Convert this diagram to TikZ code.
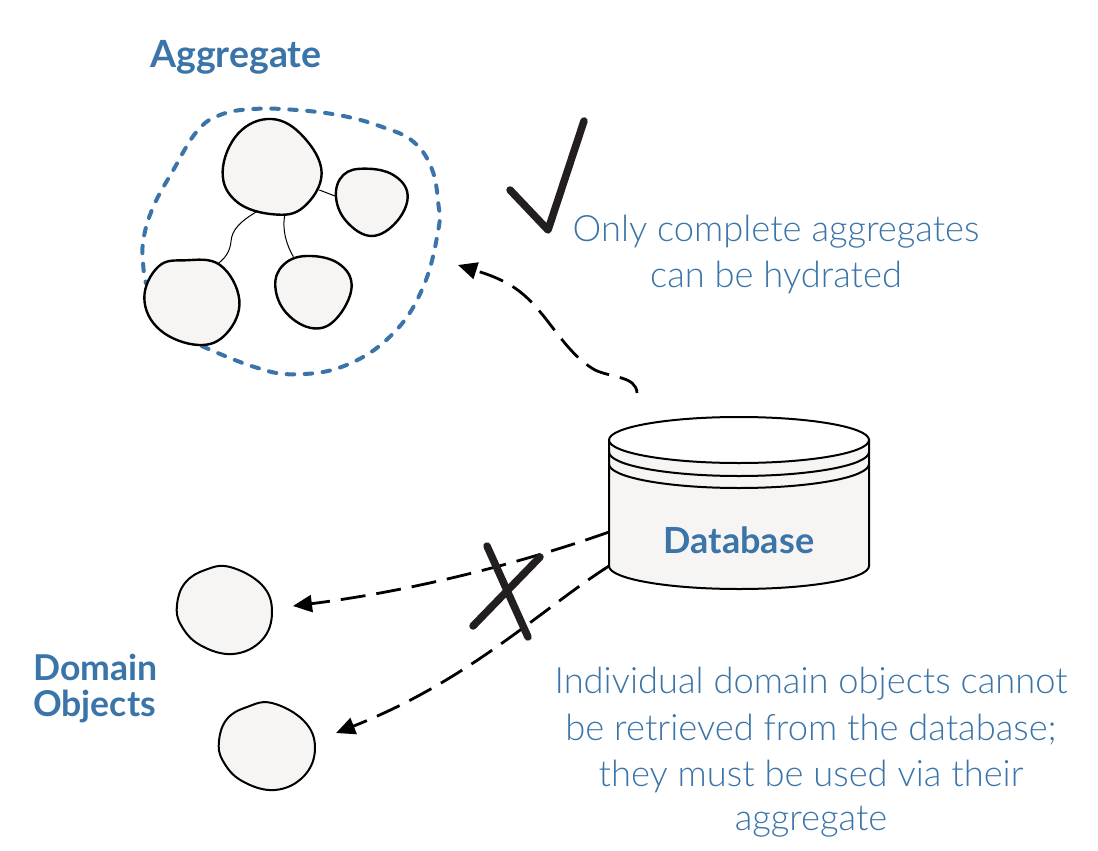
\documentclass[tikz,border=0pt]{standalone}
\usepackage{fontspec}
\setmainfont{Lato}[UprightFont=* Light,BoldFont=* Bold]
\usetikzlibrary{arrows.meta}
\definecolor{blueink}{HTML}{3A74A8}
\definecolor{blobfill}{HTML}{F6F5F3}
\definecolor{inkdark}{HTML}{231F20}
\tikzset{
  x=1pt,y=-1pt,
  blob/.style={draw=black,fill=blobfill,line width=2.4pt},
  smallblob/.style={draw=black,fill=blobfill,line width=2pt},
  link/.style={draw=black,line width=1pt},
  hull/.style={draw=blueink,line width=4pt,dash pattern=on 7.5pt off 10.5pt,line cap=round},
  flow/.style={draw=black,line width=2.8pt,dash pattern=on 25pt off 11pt,-{Stealth[length=19pt,width=17pt,inset=0pt]}},
  thickstroke/.style={draw=inkdark,line width=7.5pt,line cap=round,line join=round},
  cyl/.style={draw=black,line width=2pt},
  bodytext/.style={text=blueink,font=\fontsize{36.3}{40}\selectfont,inner sep=0pt,anchor=center},
  headtext/.style={text=blueink,font=\fontsize{35.6}{38}\selectfont\bfseries,inner sep=0pt}
}
\begin{document}
\begin{tikzpicture}
\useasboundingbox (0,0) rectangle (1098,851);
% aggregate hull and blobs (zoom 1 coordinates)
\begin{scope}[shift={(130,90)},x=0.3333pt,y=-0.3333pt]
\draw[hull] plot[smooth,tension=0.68] coordinates {(215,768) (370,830) (495,853) (650,825) (790,730) (880,590) (925,420) (925,340) (905,235) (850,155) (760,112) (640,78) (500,60) (370,57) (270,75) (200,125) (130,240) (70,350) (40,450) (40,530) (48,580)};
\coordinate (topA) at (380,365);
\coordinate (leftA) at (265,520);
\coordinate (topB) at (465,372);
\coordinate (midA) at (490,500);
\coordinate (topC) at (568,300);
\coordinate (rightA) at (620,320);
\draw[link] (topA) .. controls (330,395) and (305,420) .. (303,455) .. controls (300,485) and (285,505) .. (leftA);
\draw[link] (topB) .. controls (455,420) and (470,465) .. (midA);
\draw[link] (topC) -- (rightA);
\draw[blob] plot[smooth cycle,tension=0.68] coordinates {(425,87) (520,140) (575,250) (520,352) (430,373) (320,335) (278,245) (325,130)};
\draw[blob] plot[smooth cycle,tension=0.68] coordinates {(705,236) (790,255) (833,315) (800,395) (725,438) (650,395) (618,320) (640,255)};
\draw[blob] plot[smooth cycle,tension=0.68] coordinates {(530,498) (625,520) (665,590) (620,685) (550,715) (470,670) (436,590) (460,525)};
\draw[blob] plot[smooth cycle,tension=0.68] coordinates {(165,511) (270,525) (328,630) (290,730) (205,765) (90,720) (43,625) (85,530)};
\end{scope}
% lone domain objects
\begin{scope}
\draw[smallblob] plot[smooth cycle,tension=0.68] coordinates {(205,570) (230,567) (262,585) (272,612) (262,640) (233,654) (200,645) (181,625) (177,605) (185,583)};
\draw[smallblob] plot[smooth cycle,tension=0.68] coordinates {(247,707) (272,703) (304,721) (315,748) (304,776) (275,790) (242,781) (223,761) (219,741) (227,719)};
\end{scope}
% database
\draw[cyl,fill=blobfill] (609,440) -- (609,566) arc[start angle=180,end angle=0,x radius=130,y radius=23] -- (869,440) -- cycle;
\draw[cyl] (609,452) arc[start angle=180,end angle=0,x radius=130,y radius=24];
\draw[cyl] (609,464) arc[start angle=180,end angle=0,x radius=130,y radius=24];
\draw[cyl,fill=white] (739,440) ellipse[x radius=130,y radius=23];
% connectors
\coordinate (dbTop) at (637,393);
\coordinate (aggTip) at (458,265);
\coordinate (dbA) at (609,532);
\coordinate (objA) at (293,606);
\coordinate (dbB) at (609,566);
\coordinate (objB) at (336,733);
\draw[flow] (dbTop) .. controls (636,376) and (612,378) .. (595,370) .. controls (560,350) and (545,305) .. (510,285) .. controls (495,276) and (480,272) .. (aggTip);
\draw[flow] (dbA) .. controls (530,560) and (420,590) .. (objA);
\draw[flow] (dbB) .. controls (540,610) and (470,680) .. (objB);
% marks
\coordinate (checkA) at (510,190);
\coordinate (checkB) at (548,230);
\coordinate (checkC) at (584,121);
\draw[thickstroke] (checkA) -- (checkB) -- (checkC);
\coordinate (xA) at (487,546);
\coordinate (xB) at (528,637);
\coordinate (xC) at (540,557);
\coordinate (xD) at (473,626);
\draw[thickstroke] (xA) -- (xB);
\draw[thickstroke] (xC) -- (xD);
% texts
\node[headtext,font=\fontsize{37.5}{38}\selectfont\bfseries] (aggTitle) at (236,57) {Aggregate};
\node[headtext,font=\fontsize{36}{38}\selectfont\bfseries] (dbTitle) at (739,540) {Database};
\node[headtext,anchor=west] (domA) at (33,667) {Domain};
\node[headtext,anchor=west] (domB) at (33,706) {Objects};
\node[bodytext] (okA) at (776,232) {Only complete aggregates};
\node[bodytext] (okB) at (776,277) {can be hydrated};
\node[bodytext] (noA) at (811,684) {Individual domain objects cannot};
\node[bodytext] (noB) at (811,730) {be retrieved from the database;};
\node[bodytext] (noC) at (811,776) {they must be used via their};
\node[bodytext] (noD) at (811,822) {aggregate};
\end{tikzpicture}
\end{document}
